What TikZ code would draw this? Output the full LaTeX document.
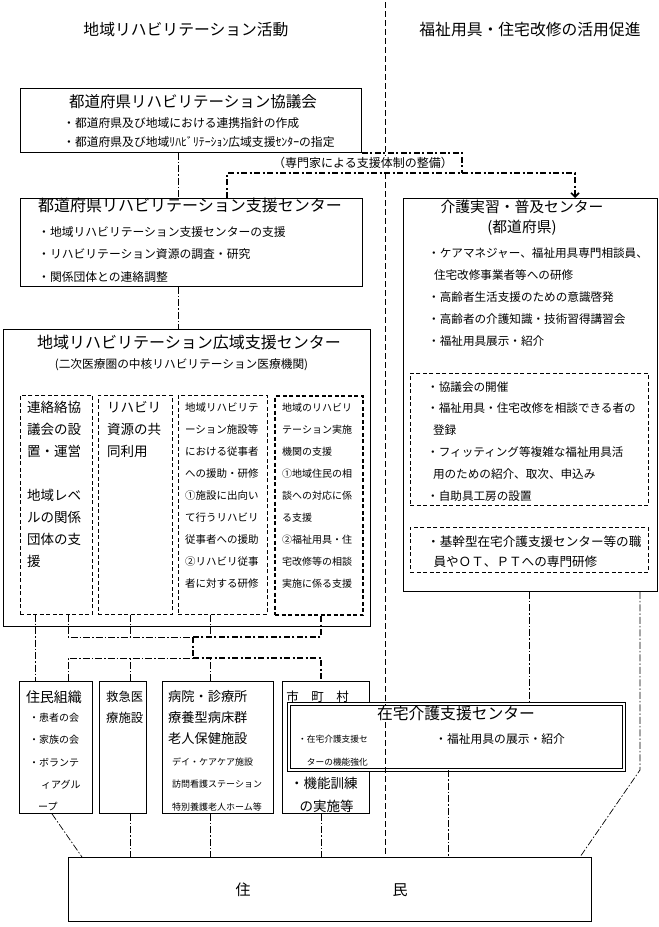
\documentclass[tikz,border=0pt]{standalone}
\usepackage{fontspec}
\setmainfont{Noto Sans CJK JP}
\usetikzlibrary{arrows.meta}

\newcommand{\schrift}[2]{\fontsize{#1}{#2}\selectfont}

\tikzset{
  kasten/.style={draw, line width=0.9pt, fill=white, anchor=north west, inner sep=0},
  innen/.style={draw, line width=0.7pt, dash pattern=on 4pt off 2.5pt, anchor=north west, inner sep=0},
  dick/.style={line width=2.2pt, dash pattern=on 6pt off 2.5pt on 2pt off 2.5pt},
  strpkt/.style={line width=0.7pt, dash pattern=on 7pt off 2pt on 1.5pt off 2pt},
  trenn/.style={line width=0.7pt, dash pattern=on 6pt off 3pt},
  txt/.style={anchor=north west, inner sep=0, align=left},
}

\begin{document}
\begin{tikzpicture}[x=1pt, y=-1pt]
        \useasboundingbox (0,0) rectangle (659,927);

        % Ueberschriften
        \node[font=\schrift{15.8}{18}] (ueb1) at (186,30) {地域リハビリテーション活動};
        \node[font=\schrift{15.8}{18}] (ueb2) at (530,30) {福祉用具・住宅改修の活用促進};

        % Kaesten links
        \node[kasten, minimum width=341pt, minimum height=64pt] (rat) at (20,88) {};
        \node[kasten, minimum width=342pt, minimum height=88pt] (zentrum) at (20,198) {};
        \node[kasten, minimum width=367pt, minimum height=297pt] (breit) at (3,329) {};
        \node[innen, minimum width=72pt, minimum height=219pt] (ia) at (20,395) {};
        \node[innen, minimum width=74pt, minimum height=219pt] (ib) at (98,395) {};
        \node[innen, minimum width=89pt, minimum height=219pt] (ic) at (178,395) {};
        \node[innen, line width=2.2pt, dash pattern=on 4pt off 2.5pt, minimum width=88pt, minimum height=219pt] (id) at (274,395) {};

        % Kaesten rechts
        \node[kasten, minimum width=254pt, minimum height=393pt] (pflege) at (403,198) {};
        \node[innen, minimum width=238pt, minimum height=132pt] (pi1) at (410,373) {};
        \node[innen, minimum width=238pt, minimum height=45pt] (pi2) at (410,527) {};

        % untere Reihe
        \node[kasten, minimum width=73pt, minimum height=132pt] (verein) at (19,681) {};
        \node[kasten, minimum width=47pt, minimum height=132pt] (notfall) at (99,681) {};
        \node[kasten, minimum width=111pt, minimum height=132pt] (klinik) at (162,681) {};
        \node[kasten, minimum width=87pt, minimum height=132pt] (gemeinde) at (282,681) {};
        \node[kasten, double, double distance=1.6pt, line width=0.8pt, minimum width=335pt, minimum height=66pt] (haus) at (288.6,703.6) {};
        \node[kasten, minimum width=523pt, minimum height=64pt] (bewohner) at (68,857) {};

        % Spuren fuer die Verbindungen
        \coordinate (oben) at (385,2);
        \coordinate (sM) at (178,0);
        \coordinate (sA) at (35,0);
        \coordinate (sB) at (68,0);
        \coordinate (sC) at (130,0);
        \coordinate (sD) at (210,0);
        \coordinate (sE) at (321,0);
        \coordinate (sH) at (448,0);
        \coordinate (sP) at (529,0);
        \coordinate (sR) at (640,0);
        \coordinate (d0) at (52,0);
        \coordinate (d1) at (82,0);
        \coordinate (d2) at (580,0);
        \coordinate (sK) at (640,770);
        \coordinate (k1) at (193,637);
        \coordinate (k2) at (193,658);
        \coordinate (e1) at (462,173);
        \coordinate (el) at (227,173);
        \coordinate (er) at (575,173);

        % Trennlinie
        \draw[trenn] (oben) -- (bewohner.north -| oben);

        % Verbindungen oben
        \draw[strpkt] (rat.south -| sM) -- (zentrum.north -| sM);
        \draw[strpkt] (zentrum.south -| sM) -- (breit.north -| sM);
        \draw[dick] (rat.south east) -| (e1);
        \draw[dick, -{Straight Barb[length=4pt, width=8pt, line width=1.6pt]}] (zentrum.north -| el) -- (el) -- (er) -- (pflege.north -| er);
        \node[fill=white, inner sep=1pt, font=\schrift{12}{14}] (spez) at (363,163) {（専門家による支援体制の整備）};

        % Verbindungen Mitte
        \draw[strpkt] (ia.south -| sA) -- (verein.north -| sA);
        \draw[strpkt] (ia.south -| sB) |- (k1);
        \draw[strpkt] (ib.south -| sC) -- (k1 -| sC);
        \draw[strpkt] (ic.south -| sD) -- (k1 -| sD);
        \draw[dick] (id.south -| sE) |- (k1);
        \draw[dick] (k1) -- (k2);
        \draw[strpkt] (verein.north -| sB) |- (k2);
        \draw[strpkt] (notfall.north -| sC) -- (k2 -| sC);
        \draw[strpkt] (klinik.north -| sD) -- (k2 -| sD);
        \draw[dick] (k2) -| (gemeinde.north -| sE);

        % Verbindungen unten
        \draw[strpkt] (verein.south -| d0) -- (bewohner.north -| d1);
        \draw[strpkt] (notfall.south -| sC) -- (bewohner.north -| sC);
        \draw[strpkt] (klinik.south -| sD) -- (bewohner.north -| sD);
        \draw[strpkt] (gemeinde.south -| sE) -- (bewohner.north -| sE);
        \draw[strpkt] (haus.south -| sH) -- (bewohner.north -| sH);
        \draw[strpkt] (pflege.south -| sP) -- (haus.north -| sP);
        \draw[strpkt] (pflege.south -| sR) -- (sK) -- (bewohner.north -| d2);

        % Beschriftungen links
        \node[font=\schrift{15.5}{18}] (ratT) at (193,102) {都道府県リハビリテーション協議会};
        \node[txt, font=\schrift{11.8}{19.5}] (ratL) at (63,117) {・都道府県及び地域における連携指針の作成\\・都道府県及び地域ﾘﾊﾋﾞﾘﾃｰｼｮﾝ広域支援ｾﾝﾀｰの指定};
        \node[font=\schrift{16}{18}] (zentT) at (190,205) {都道府県リハビリテーション支援センター};
        \node[txt, font=\schrift{11.8}{22.8}] (zentL) at (38,226) {・地域リハビリテーション支援センターの支援\\・リハビリテーション資源の調査・研究\\・関係団体との連絡調整};
        \node[font=\schrift{16}{18}] (breitT) at (189,342) {地域リハビリテーション広域支援センター};
        \node[font=\schrift{11.7}{14}] (breitU) at (181.5,365) {(二次医療圏の中核リハビリテーション医療機関)};
        \node[txt, font=\schrift{13.5}{22}] (iaT) at (27,401.3) {連絡絡協\\議会の設\\置・運営\\[22pt]地域レベ\\ルの関係\\団体の支\\援};
        \node[txt, font=\schrift{13.5}{22}] (ibT) at (107,401.3) {リハビリ\\資源の共\\同利用};
        \node[txt, font=\schrift{10.5}{22}] (icT) at (185,402.8) {地域リハビリテ\\ーション施設等\\における従事者\\への援助・研修\\①施設に出向い\\て行うリハビリ\\従事者への援助\\②リハビリ従事\\者に対する研修};
        \node[txt, font=\schrift{10}{22}] (idT) at (282,403) {地域のリハビリ\\テーション実施\\機関の支援\\①地域住民の相\\談への対応に係\\る支援\\②福祉用具・住\\宅改修等の相談\\実施に係る支援};

        % Beschriftungen rechts
        \node[font=\schrift{14.8}{18}] (pflegeT) at (522,207) {介護実習・普及センター};
        \node[font=\schrift{14.8}{18}] (pflegeU) at (522,228) {(都道府県)};
        \node[txt, font=\schrift{11.6}{22.2}] (pflegeL) at (428,247.2) {・ケアマネジャー、福祉用具専門相談員、\\\hspace{0.5em}住宅改修事業者等への研修\\・高齢者生活支援のための意識啓発\\・高齢者の介護知識・技術習得講習会\\・福祉用具展示・紹介};
        \node[txt, font=\schrift{11.6}{21.8}] (pi1T) at (427,381.2) {・協議会の開催\\・福祉用具・住宅改修を相談できる者の\\\hspace{0.5em}登録\\・フィッティング等複雑な福祉用具活\\\hspace{0.5em}用のための紹介、取次、申込み\\・自助具工房の設置};
        \node[txt, font=\schrift{12.6}{20}] (pi2T) at (427,535.7) {・基幹型在宅介護支援センター等の職\\\hspace{0.5em}員やＯＴ、ＰＴへの専門研修};

        % Beschriftungen unten
        \node[font=\schrift{14}{16}] (vereinT) at (54,697) {住民組織};
        \node[txt, font=\schrift{10}{22.3}] (vereinL) at (29,713) {・患者の会\\・家族の会\\・ボランテ\\\hspace{1.2em}ィアグル\\\hspace{0.9em}ープ};
        \node[txt, font=\schrift{12.3}{21}] (notfallT) at (106,690.8) {救急医\\療施設};
        \node[txt, font=\schrift{13.2}{21}] (klinikT) at (168,690.4) {病院・診療所\\療養型病床群\\老人保健施設};
        \node[txt, font=\schrift{9}{22.5}] (klinikL) at (172,757.5) {デイ・ケアケア施設\\訪問看護ステーション\\特別養護老人ホーム等};
        \node[font=\schrift{12.5}{14}] (gemeindeT) at (317.5,697) {市　町　村};
        \node[txt, font=\schrift{13.5}{23}] (gemeindeL) at (290,777.2) {・機能訓練\\\hspace{0.7em}の実施等};
        \node[fill=white, inner sep=1pt, font=\schrift{15.8}{18}] (hausT) at (456,714) {在宅介護支援センター};
        \node[txt, font=\schrift{8.7}{23}] (hausL) at (298,734.6) {・在宅介護支援セ\\\hspace{1em}ターの機能強化};
        \node[anchor=west, inner sep=0, font=\schrift{11.8}{14}] (hausR) at (435,739) {・福祉用具の展示・紹介};
        \node[font=\schrift{15}{18}] (bewohnerT) at (321.5,890) {住\hspace{142pt}民};
\end{tikzpicture}
\end{document}
